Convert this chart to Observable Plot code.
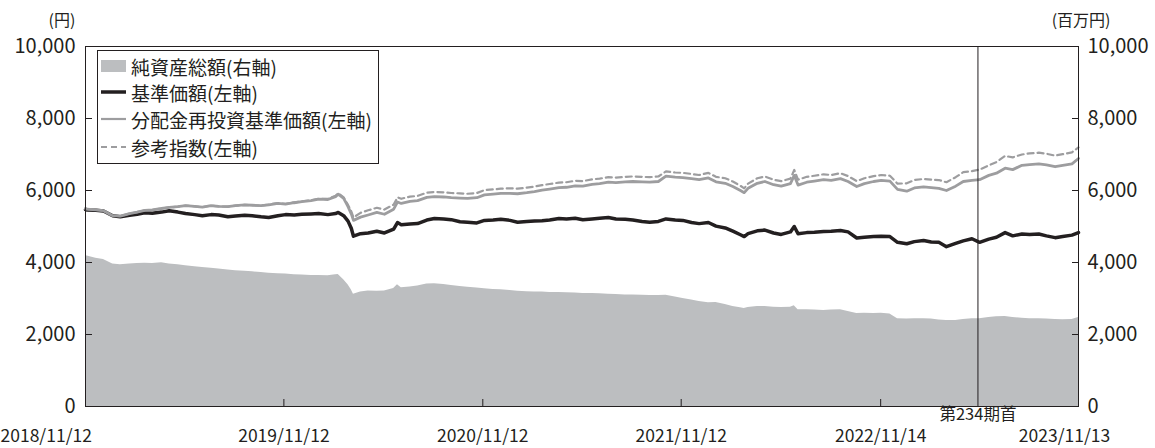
<!DOCTYPE html>
<html>
<head>
<meta charset="utf-8">
<script src="https://cdn.jsdelivr.net/npm/d3@7"></script>
<script src="https://cdn.jsdelivr.net/npm/@observablehq/plot@0.6"></script>
<style>
  html, body { margin: 0; padding: 0; background: #fff; }
  body { font-family: "Noto Sans CJK JP", "Noto Sans", sans-serif; color: #231f20; }
  #wrap { position: relative; width: 1155px; height: 448px; }
  #legend { position: absolute; left: 97px; top: 50px; width: 282px; height: 114px; box-sizing: border-box;
            border: 1px solid #231f20; background: #fff; }
  .row { position: absolute; left: 2px; height: 26px; display: flex; align-items: center; font-size: 19px; white-space: nowrap; }
  .row svg { margin-right: 5px; flex: none; }
</style>
</head>
<body>
<div id="wrap">
  <div id="chart"></div>
  <div id="legend"></div>
</div>
<script>
// ---- data ----
const dates = [
  "2018-11-12","2018-11-15","2018-12-01","2018-12-15",
  "2019-01-01","2019-01-15","2019-02-01","2019-02-15","2019-03-01","2019-03-15","2019-04-01","2019-04-15",
  "2019-05-01","2019-05-15","2019-06-01","2019-06-15","2019-07-01","2019-07-15","2019-08-01","2019-08-15",
  "2019-09-01","2019-09-15","2019-10-01","2019-10-15","2019-11-01","2019-11-15","2019-12-01","2019-12-15",
  "2020-01-01","2020-01-15","2020-02-01","2020-02-15","2020-02-20","2020-03-01","2020-03-09","2020-03-15",
  "2020-03-19","2020-04-01","2020-04-15","2020-05-01","2020-05-15","2020-06-01","2020-06-08","2020-06-15",
  "2020-07-01","2020-07-15","2020-08-01","2020-08-15","2020-09-01","2020-09-15","2020-10-01","2020-10-15",
  "2020-11-01","2020-11-15","2020-12-01","2020-12-15",
  "2021-01-01","2021-01-15","2021-02-01","2021-02-15","2021-03-01","2021-03-15","2021-04-01","2021-04-15",
  "2021-05-01","2021-05-15","2021-06-01","2021-06-15","2021-07-01","2021-07-15","2021-08-01","2021-08-15",
  "2021-09-01","2021-09-15","2021-10-01","2021-10-15","2021-11-01","2021-11-15","2021-12-01","2021-12-15",
  "2022-01-01","2022-01-15","2022-02-01","2022-02-15","2022-03-01","2022-03-08","2022-03-15","2022-04-01",
  "2022-04-15","2022-05-01","2022-05-15","2022-06-01","2022-06-08","2022-06-15","2022-07-01","2022-07-15",
  "2022-08-01","2022-08-15","2022-09-01","2022-09-15","2022-10-01","2022-10-15","2022-11-01","2022-11-15",
  "2022-12-01","2022-12-15",
  "2023-01-01","2023-01-15","2023-02-01","2023-02-15","2023-03-01","2023-03-15","2023-04-01","2023-04-15",
  "2023-05-01","2023-05-15","2023-06-01","2023-06-15","2023-07-01","2023-07-15","2023-08-01","2023-08-15",
  "2023-09-01","2023-09-15","2023-10-01","2023-10-15","2023-11-01","2023-11-13"
];

// 純資産総額 (百万円, right axis)
const netAssets = [
  4190,4180,4120,4080,
  3960,3940,3960,3970,3980,3970,3990,3960,3940,3910,3880,3860,3840,3820,3790,3770,3760,3740,3720,3700,3690,3680,3660,3650,
  3640,3640,3630,3660,3670,3520,3380,3240,3120,3180,3210,3200,3210,3280,3380,3300,3320,3350,3400,3410,3390,3360,3330,3310,3290,3270,3250,3240,
  3220,3200,3190,3180,3180,3170,3170,3160,3150,3140,3140,3130,3120,3110,3100,3100,3090,3080,3080,3090,3040,3000,2960,2920,
  2880,2890,2830,2780,2740,2720,2750,2780,2780,2760,2750,2760,2800,2690,2690,2680,2670,2680,2690,2640,2580,2590,2580,2590,2570,2440,
  2430,2440,2440,2430,2400,2390,2390,2420,2440,2440,2470,2490,2500,2470,2450,2440,2440,2430,2420,2410,2420,2470
];

// 基準価額 (円, left axis)
const nav = [
  5470,5460,5450,5430,
  5300,5270,5310,5340,5380,5370,5400,5440,5400,5360,5330,5300,5330,5320,5270,5290,5310,5300,5270,5250,5300,5330,5320,5340,
  5350,5360,5330,5360,5390,5300,5150,4950,4730,4800,4820,4870,4820,4930,5110,5050,5070,5080,5180,5220,5210,5190,5130,5120,5100,5170,5180,5200,
  5170,5120,5140,5150,5160,5180,5220,5210,5230,5190,5210,5230,5250,5210,5200,5180,5140,5120,5140,5210,5180,5170,5110,5080,
  5110,5010,4960,4870,4770,4720,4800,4880,4900,4820,4780,4850,5000,4800,4830,4840,4860,4870,4890,4850,4680,4700,4720,4730,4720,4560,
  4520,4580,4610,4570,4560,4440,4530,4600,4660,4560,4650,4700,4830,4740,4790,4780,4790,4740,4690,4720,4760,4830
];

// 分配金再投資基準価額 (円, left axis)
const reinvested = [
  5500,5480,5460,5440,
  5300,5290,5360,5400,5450,5460,5500,5530,5550,5580,5560,5540,5580,5560,5550,5580,5600,5590,5580,5600,5640,5620,5660,5690,
  5720,5760,5750,5830,5900,5780,5550,5350,5170,5260,5320,5390,5340,5480,5680,5640,5700,5720,5810,5830,5820,5800,5790,5780,5800,5880,5900,5920,
  5920,5910,5940,5970,6010,6040,6080,6090,6130,6120,6170,6190,6230,6220,6240,6250,6240,6230,6250,6400,6370,6360,6330,6300,
  6350,6240,6200,6110,6000,5940,6060,6200,6250,6160,6120,6190,6420,6150,6230,6260,6300,6280,6330,6250,6110,6190,6250,6280,6260,6030,
  5980,6070,6100,6080,6060,6000,6120,6250,6280,6300,6420,6480,6620,6580,6700,6720,6740,6710,6660,6700,6740,6890
];

// 参考指数 (円, left axis)
const benchmark = [
  5500,5480,5460,5440,
  5300,5290,5360,5400,5450,5460,5500,5530,5550,5580,5560,5540,5580,5560,5550,5580,5600,5590,5580,5610,5650,5630,5670,5700,
  5730,5770,5770,5850,5920,5810,5600,5420,5250,5380,5450,5520,5470,5610,5810,5770,5830,5850,5940,5960,5950,5930,5920,5910,5930,6010,6030,6050,
  6060,6050,6080,6110,6150,6180,6220,6230,6270,6260,6310,6330,6370,6360,6380,6390,6380,6370,6390,6530,6500,6490,6460,6430,
  6490,6380,6340,6250,6130,6060,6190,6340,6390,6300,6260,6330,6570,6300,6380,6410,6450,6430,6480,6400,6260,6340,6400,6430,6410,6190,
  6200,6290,6320,6300,6290,6230,6370,6510,6540,6580,6700,6790,6960,6920,7000,7030,7050,7020,6970,7010,7060,7200
];

const xTickDates  = ["2018-11-12","2019-11-12","2020-11-12","2021-11-12","2022-11-14","2023-11-13"];
const xTickLabels = ["2018/11/12","2019/11/12","2020/11/12","2021/11/12","2022/11/14","2023/11/13"];
const yTicks = [0, 2000, 4000, 6000, 8000, 10000];
const periodStart = ["2023-05-12"];
const periodLabel = "第234期首";
const leftUnit = "(円)";
const rightUnit = "(百万円)";

const seriesNames = ["純資産総額(右軸)", "基準価額(左軸)", "分配金再投資基準価額(左軸)", "参考指数(左軸)"];
const colors = { net: "#bcbec0", nav: "#231f20", reinv: "#9d9d9f", bench: "#9d9d9f", ink: "#231f20" };

// ---- build ----
const FONT = '"Noto Sans CJK JP", "Noto Sans", sans-serif';
const parse = d3.utcParse("%Y-%m-%d");
const data = dates.map((d, i) => ({
  date: parse(d), net: netAssets[i], nav: nav[i], reinv: reinvested[i], bench: benchmark[i]
}));
const xLabels = xTickDates.map((d, i) => ({ date: parse(d), label: xTickLabels[i] }));
const fmt = d3.format(",");

const chart = Plot.plot({
  width: 1155,
  height: 448,
  marginLeft: 85,
  marginRight: 77,
  marginTop: 46,
  marginBottom: 42,
  style: { fontFamily: FONT, fontSize: "20px", color: colors.ink, background: "#fff", overflow: "visible" },
  x: { type: "utc", domain: [parse(dates[0]), parse(dates[dates.length - 1])] },
  y: { domain: [0, 10000] },
  marks: [
    Plot.areaY(data, { x: "date", y: "net", fill: colors.net }),
    Plot.lineY(data, { x: "date", y: "nav", stroke: colors.nav, strokeWidth: 3.5 }),
    Plot.lineY(data, { x: "date", y: "bench", stroke: colors.bench, strokeWidth: 2.2, strokeDasharray: "6,4" }),
    Plot.lineY(data, { x: "date", y: "reinv", stroke: colors.reinv, strokeWidth: 2.8 }),
    Plot.ruleX(periodStart, { x: d => parse(d), stroke: colors.ink, strokeWidth: 1 }),
    Plot.frame({ stroke: colors.ink, strokeWidth: 1 }),
    Plot.axisY(yTicks, { anchor: "left", tickFormat: fmt, tickSize: -7, tickPadding: 17, label: null, fontSize: 20 }),
    Plot.axisY(yTicks, { anchor: "right", tickFormat: fmt, tickSize: -7, tickPadding: 16, label: null, fontSize: 20 }),
    Plot.axisX(xTickDates.map(parse), { tickSize: -7, tickFormat: () => "", label: null }),
    Plot.text(xLabels.slice(0, 1), { x: "date", text: "label", frameAnchor: "bottom", dy: 35, dx: -85, textAnchor: "start", fontSize: 17.5 }),
    Plot.text(xLabels.slice(1, -1), { x: "date", text: "label", frameAnchor: "bottom", dy: 35, textAnchor: "middle", fontSize: 17.5 }),
    Plot.text(xLabels.slice(-1), { x: "date", text: "label", frameAnchor: "bottom", dy: 35, dx: -14, textAnchor: "middle", fontSize: 17.5 }),
    Plot.text(periodStart, { x: d => parse(d), text: () => periodLabel, frameAnchor: "bottom", dy: 13, fontSize: 16.5 }),
    Plot.text([leftUnit], { frameAnchor: "top-left", dx: -37, dy: -32, fontSize: 16 }),
    Plot.text([rightUnit], { frameAnchor: "top-right", dx: 32, dy: -32, fontSize: 16 })
  ]
});
document.getElementById("chart").appendChild(chart);

// ---- legend (inside the plot frame, top-left) ----
const swatches = [
  `<svg width="26" height="14"><rect x="1" y="1" width="25" height="12" fill="${colors.net}"/></svg>`,
  `<svg width="26" height="14"><line x1="1" y1="7" x2="26" y2="7" stroke="${colors.nav}" stroke-width="3.5"/></svg>`,
  `<svg width="26" height="14"><line x1="1" y1="7" x2="26" y2="7" stroke="${colors.reinv}" stroke-width="2.2"/></svg>`,
  `<svg width="26" height="14"><line x1="1" y1="7" x2="26" y2="7" stroke="${colors.bench}" stroke-width="2" stroke-dasharray="6,4"/></svg>`
];
const rowCenters = [15, 41, 68, 96];
const legend = document.getElementById("legend");
legend.innerHTML = seriesNames.map((name, i) =>
  `<div class="row" style="top:${rowCenters[i] - 13}px">${swatches[i]}<span>${name}</span></div>`
).join("");
</script>
</body>
</html>
